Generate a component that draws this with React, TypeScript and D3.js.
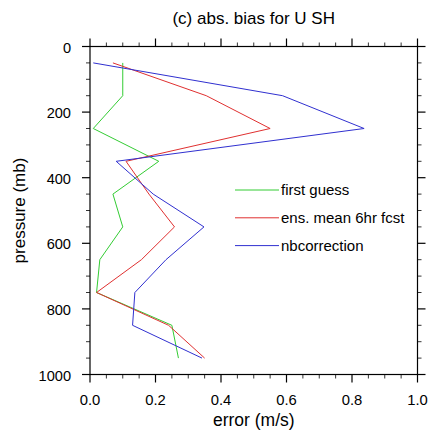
import React from "react";
import * as d3 from "d3";

const pressureLevels = [50, 150, 250, 350, 450, 550, 650, 750, 850, 950];
const firstGuess = [0.1, 0.1, 0.01, 0.21, 0.07, 0.1, 0.03, 0.02, 0.25, 0.27];
const ensMean = [0.07, 0.355, 0.55, 0.11, 0.18, 0.258, 0.157, 0.02, 0.24, 0.35];
const nbCorrection = [0.01, 0.588, 0.837, 0.08, 0.193, 0.348, 0.232, 0.137, 0.13, 0.342];
const seriesNames = ["first guess", "ens. mean 6hr fcst", "nbcorrection"];
const seriesColors = ["#33cc33", "#e03030", "#3030d0"];
const xTicks = [0, 0.2, 0.4, 0.6, 0.8, 1.0];
const yTicks = [0, 200, 400, 600, 800, 1000];

export default function App() {
  const W = 430, H = 436;
  const left = 90, right = 417.5, top = 46.5, bottom = 374.5;
  const x = d3.scaleLinear().domain([0, 1]).range([left, right]);
  const y = d3.scaleLinear().domain([0, 1000]).range([top, bottom]);
  const series = [firstGuess, ensMean, nbCorrection];
  const line = d3.line<[number, number]>().x(d => x(d[0])).y(d => y(d[1]));
  const xMinor = d3.range(0, 1.0001, 0.05);
  const yMinor = d3.range(0, 1000.1, 50);
  const font = "'Liberation Sans', Arial, Helvetica, sans-serif";
  return (
    <svg width={W} height={H} style={{ position: "absolute", left: 0, top: 0 }} fontFamily={font}>
      <rect width={W} height={H} fill="#fff" />
      <text x={253.7} y={24} fontSize={17} textAnchor="middle" fill="#000">(c) abs. bias for U SH</text>
      {series.map((s, i) => (
        <path key={i} d={line(s.map((v, j) => [v, pressureLevels[j]] as [number, number])) || ""}
          fill="none" stroke={seriesColors[i]} strokeWidth={1} />
      ))}
      <rect x={left} y={top} width={right - left} height={bottom - top} fill="none" stroke="#000" strokeWidth={1.2} />
      {xMinor.map((v, i) => {
        const major = Math.abs(v * 5 - Math.round(v * 5)) < 1e-6;
        const len = major ? 8 : 4;
        return (
          <g key={"xt" + i}>
            <line x1={x(v)} x2={x(v)} y1={bottom} y2={bottom + len} stroke="#000" strokeWidth={major ? 1.2 : 0.8} />
            <line x1={x(v)} x2={x(v)} y1={top} y2={top - len} stroke="#000" strokeWidth={major ? 1.2 : 0.8} />
          </g>
        );
      })}
      {yMinor.map((v, i) => {
        const major = v % 200 === 0;
        const len = major ? 8 : 4;
        return (
          <g key={"yt" + i}>
            <line x1={left} x2={left - len} y1={y(v)} y2={y(v)} stroke="#000" strokeWidth={major ? 1.2 : 0.8} />
            <line x1={right} x2={right + len} y1={y(v)} y2={y(v)} stroke="#000" strokeWidth={major ? 1.2 : 0.8} />
          </g>
        );
      })}
      {xTicks.map((v, i) => (
        <text key={"xl" + i} x={x(v)} y={bottom + 30.5} fontSize={14.8} textAnchor="middle">{v.toFixed(1)}</text>
      ))}
      {yTicks.map((v, i) => (
        <text key={"yl" + i} x={left - 19} y={y(v) + 6} fontSize={14.6} textAnchor="end">{v}</text>
      ))}
      <text x={(left + right) / 2} y={426} fontSize={17.5} textAnchor="middle">error (m/s)</text>
      <text transform={`translate(25, ${(top + bottom) / 2}) rotate(-90)`} fontSize={17} textAnchor="middle">pressure (mb)</text>
      {seriesNames.map((n, i) => {
        const ly = 190 + i * 27.8;
        return (
          <g key={"lg" + i}>
            <line x1={235} x2={279} y1={ly} y2={ly} stroke={seriesColors[i]} strokeWidth={1} />
            <text x={281} y={ly + 5} fontSize={15}>{n}</text>
          </g>
        );
      })}
    </svg>
  );
}
